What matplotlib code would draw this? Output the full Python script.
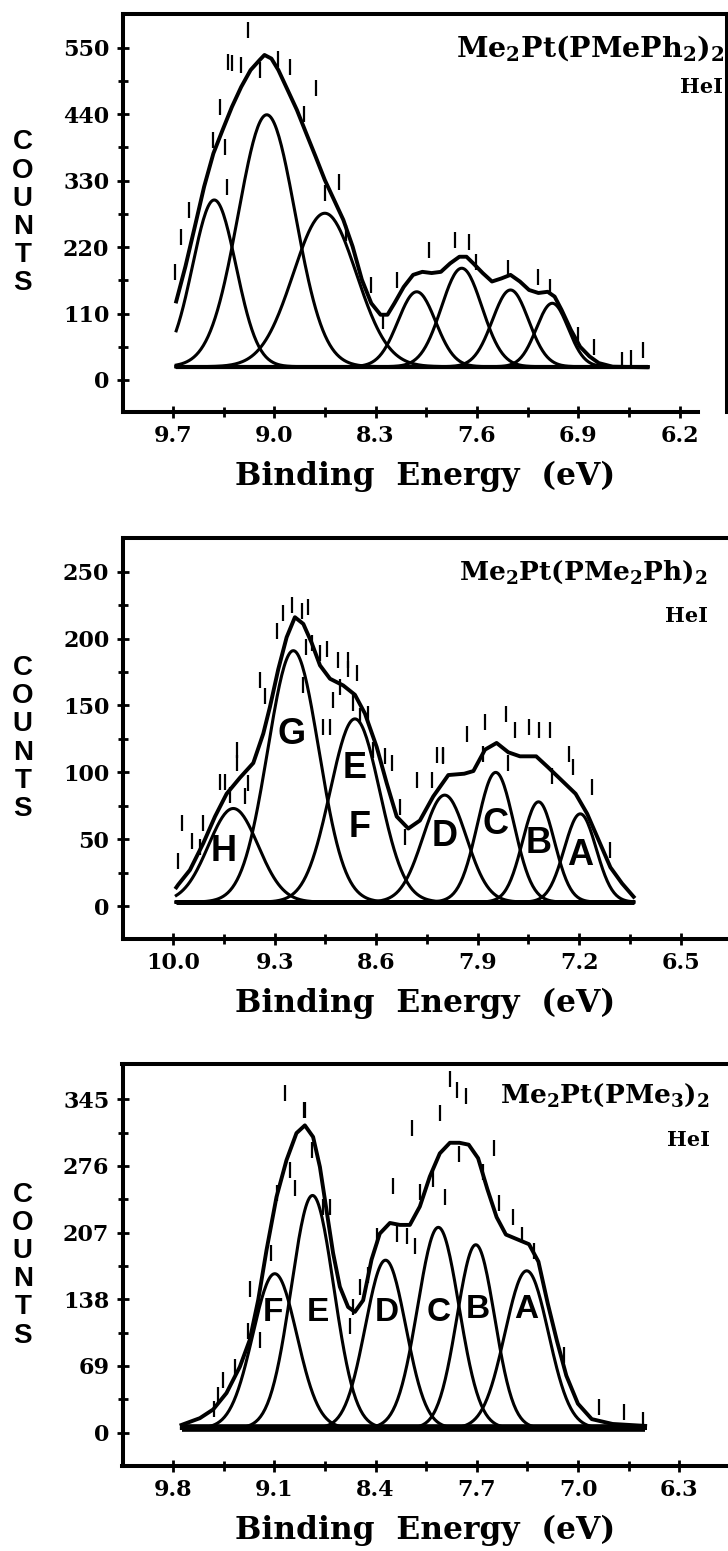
import numpy as np
import matplotlib.pyplot as plt
from matplotlib.ticker import FixedLocator

plt.rcParams['mathtext.default'] = 'regular'

# ---------------- panel 1 : Me2Pt(PMePh2)2 ----------------
p1_center = [9.415, 9.052, 8.651, 8.016, 7.705, 7.368, 7.079]
p1_height = [276, 417, 254, 124, 163, 127, 105]
p1_sigma = [0.15, 0.197, 0.218, 0.13, 0.14, 0.125, 0.11]
p1_base = 22
p1_range = (9.678, 6.42)
p1_env_x = [9.678, 9.614, 9.549, 9.485, 9.421, 9.357, 9.293, 9.229, 9.164, 9.100,
            9.068, 9.020, 8.972, 8.908, 8.844, 8.779, 8.715, 8.651, 8.587, 8.523,
            8.459, 8.395, 8.330, 8.266, 8.218, 8.170, 8.106, 8.041, 7.977, 7.913,
            7.849, 7.785, 7.721, 7.672, 7.625, 7.560, 7.496, 7.432, 7.368, 7.303,
            7.240, 7.175, 7.111, 7.063, 7.015, 6.951, 6.887, 6.822, 6.758, 6.662, 6.421]
p1_env_y = [130, 188, 254, 320, 375, 414, 452, 485, 513, 530,
            538, 532, 513, 480, 447, 408, 370, 331, 298, 265,
            221, 166, 127, 108, 108, 127, 154, 174, 179, 177,
            179, 193, 204, 204, 193, 177, 163, 168, 174, 163,
            149, 144, 146, 138, 116, 83, 55, 39, 28, 22, 21]
p1_pts_x = [9.180, 9.319, 9.293, 9.229, 9.100, 8.972, 8.891, 8.715, 8.795, 9.373,
            9.421, 9.341, 9.325, 8.651, 8.555, 8.507, 9.588, 9.645, 9.684, 8.330,
            8.250, 8.154, 7.929, 7.753, 7.657, 7.608, 7.383, 7.175, 7.095, 6.902,
            6.791, 6.598, 6.533, 6.453]
p1_pts_y = [579, 527, 524, 521, 513, 532, 518, 483, 441, 452,
            397, 386, 320, 309, 328, 243, 281, 237, 179, 157,
            97, 166, 215, 232, 229, 196, 185, 171, 154, 75,
            55, 33, 36, 50]
p1_xticks = [9.7, 9.0, 8.3, 7.6, 6.9, 6.2]
p1_xlabels = ['9.7', '9.0', '8.3', '7.6', '6.9', '6.2']
p1_yticks = [0, 110, 220, 330, 440, 550]

# ---------------- panel 2 : Me2Pt(PMe2Ph)2 ----------------
p2_center = [9.586, 9.172, 8.747, 8.128, 7.776, 7.481, 7.193]
p2_height = [70, 188, 137, 80, 97, 75, 66]
p2_sigma = [0.171, 0.176, 0.171, 0.15, 0.125, 0.11, 0.11]
p2_base = 3
p2_range = (9.979, 6.825)
p2_env_x = [9.979, 9.966, 9.885, 9.793, 9.712, 9.632, 9.540, 9.448, 9.379, 9.333,
            9.276, 9.218, 9.161, 9.103, 9.046, 8.988, 8.919, 8.828, 8.747, 8.678,
            8.597, 8.528, 8.459, 8.379, 8.299, 8.207, 8.103, 7.993, 7.930, 7.850,
            7.770, 7.689, 7.609, 7.497, 7.417, 7.321, 7.225, 7.145, 7.065, 6.985,
            6.905, 6.825]
p2_env_y = [14, 16, 27, 47, 67, 84, 96, 107, 129, 149,
            177, 201, 216, 211, 197, 180, 170, 165, 158, 144,
            119, 92, 67, 58, 64, 82, 98, 99, 101, 117,
            122, 115, 112, 112, 104, 94, 84, 69, 49, 29,
            17, 7]
p2_pts_x = [9.942, 9.966, 9.873, 9.793, 9.816, 9.678, 9.643, 9.609, 9.563, 9.563,
            9.483, 9.506, 9.402, 9.368, 9.287, 9.241, 9.183, 9.114, 9.069, 9.085,
            9.108, 9.046, 8.988, 8.942, 8.966, 8.919, 8.862, 8.850, 8.793, 8.793,
            8.735, 8.897, 8.759, 8.712, 8.655, 8.621, 8.540, 8.494, 8.437, 8.402,
            8.321, 8.218, 8.183, 8.138, 7.977, 7.850, 7.706, 7.641, 7.545, 7.481,
            7.401, 7.273, 7.241, 7.113, 6.985, 7.689, 7.385, 7.866, 8.137]
p2_pts_y = [62, 34, 49, 62, 44, 93, 93, 83, 117, 107,
            92, 82, 169, 157, 206, 219, 225, 221, 224, 194,
            165, 197, 189, 192, 134, 134, 184, 164, 184, 177,
            174, 154, 152, 142, 144, 117, 112, 107, 74, 52,
            94, 94, 113, 113, 129, 138, 144, 132, 134, 132,
            132, 114, 104, 89, 42, 107, 97, 114, 112]
p2_labels = ['H', 'G', 'E', 'F', 'D', 'C', 'B', 'A']
p2_label_x = [9.650, 9.183, 8.747, 8.717, 8.128, 7.776, 7.481, 7.193]
p2_label_y = [41, 128, 103, 59, 52, 61, 47, 38]
p2_xticks = [10.0, 9.3, 8.6, 7.9, 7.2, 6.5]
p2_xlabels = ['10.0', '9.3', '8.6', '7.9', '7.2', '6.5']
p2_yticks = [0, 50, 100, 150, 200, 250]

# ---------------- panel 3 : Me2Pt(PMe3)2 ----------------
p3_center = [9.097, 8.836, 8.331, 7.966, 7.707, 7.355]
p3_height = [160, 241, 174, 208, 190, 163]
p3_sigma = [0.152, 0.147, 0.14, 0.143, 0.13, 0.15]
p3_base = 4.5
p3_range = (9.742, 6.536)
p3_env_x = [9.742, 9.615, 9.523, 9.431, 9.339, 9.270, 9.212, 9.154, 9.085, 9.016,
            8.947, 8.889, 8.832, 8.785, 8.739, 8.694, 8.647, 8.590, 8.543, 8.486,
            8.428, 8.371, 8.301, 8.232, 8.163, 8.094, 8.025, 7.956, 7.886, 7.820,
            7.756, 7.691, 7.627, 7.563, 7.499, 7.419, 7.339, 7.274, 7.210, 7.146,
            7.081, 7.001, 6.905, 6.761, 6.536]
p3_env_y = [8, 15, 24, 41, 68, 96, 137, 189, 244, 282,
            310, 318, 306, 275, 230, 186, 151, 130, 125, 137,
            179, 206, 217, 215, 215, 234, 265, 289, 300, 300,
            298, 284, 252, 223, 205, 200, 195, 177, 134, 95,
            59, 30, 14, 9, 7]
p3_pts_x = [8.889, 8.843, 8.958, 8.993, 9.085, 9.120, 9.270, 9.200, 9.281, 9.373,
            9.454, 9.489, 9.519, 8.279, 8.151, 8.094, 7.956, 8.002, 7.921, 8.393,
            8.255, 8.186, 8.129, 8.451, 8.509, 8.578, 8.555, 8.763, 8.716, 7.884,
            7.836, 7.772, 7.820, 7.660, 7.580, 7.547, 7.451, 7.386, 7.306, 7.097,
            6.857, 6.680, 6.552, 9.024, 8.896]
p3_pts_y = [334, 293, 253, 272, 248, 186, 149, 96, 105, 68,
            55, 39, 25, 255, 315, 249, 331, 262, 244, 203,
            206, 203, 193, 163, 151, 110, 130, 234, 234, 366,
            355, 348, 288, 270, 295, 238, 223, 205, 188, 80,
            27, 21, 13, 352, 334]
p3_labels = ['F', 'E', 'D', 'C', 'B', 'A']
p3_label_x = [9.108, 8.797, 8.324, 7.967, 7.691, 7.355]
p3_label_y = [124, 124, 124, 124, 127, 127]
p3_xticks = [9.8, 9.1, 8.4, 7.7, 7.0, 6.3]
p3_xlabels = ['9.8', '9.1', '8.4', '7.7', '7.0', '6.3']
p3_yticks = [0, 69, 138, 207, 276, 345]

W, H = 728, 1551
fig = plt.figure(figsize=(W / 100, H / 100), dpi=100)

panels = [
    dict(rect=(122.5, 14, 727, 411.7), xlim=(10.049, 5.872), ylim=(-52.5, 605.8),
         center=p1_center, height=p1_height, sigma=p1_sigma, base=p1_base, rng=p1_range,
         env_x=p1_env_x, env_y=p1_env_y, pts_x=p1_pts_x, pts_y=p1_pts_y,
         labels=[], label_x=[], label_y=[], label_size=0,
         xticks=p1_xticks, xlabels=p1_xlabels, yticks=p1_yticks,
         title=r'Me$_2$Pt(PMePh$_2$)$_2$', title_size=20.5, title_pos=(0.9967, 0.8926),
         hei_pos=(0.9934, 0.8006), base_lw=3.0, xspine_end=6.07, right=True),
    dict(rect=(122.5, 538.3, 727, 938.5), xlim=(10.350, 6.181), ylim=(-24.2, 275),
         center=p2_center, height=p2_height, sigma=p2_sigma, base=p2_base, rng=p2_range,
         env_x=p2_env_x, env_y=p2_env_y, pts_x=p2_pts_x, pts_y=p2_pts_y,
         labels=p2_labels, label_x=p2_label_x, label_y=p2_label_y, label_size=26,
         xticks=p2_xticks, xlabels=p2_xlabels, yticks=p2_yticks,
         title=r'Me$_2$Pt(PMe$_2$Ph)$_2$', title_size=19, title_pos=(0.9686, 0.8958),
         hei_pos=(0.9686, 0.7909), base_lw=3.6, xspine_end=None, right=False),
    dict(rect=(122.5, 1064.3, 727, 1466), xlim=(10.150, 5.970), ylim=(-34.5, 381.2),
         center=p3_center, height=p3_height, sigma=p3_sigma, base=p3_base, rng=p3_range,
         env_x=p3_env_x, env_y=p3_env_y, pts_x=p3_pts_x, pts_y=p3_pts_y,
         labels=p3_labels, label_x=p3_label_x, label_y=p3_label_y, label_size=24,
         xticks=p3_xticks, xlabels=p3_xlabels, yticks=p3_yticks,
         title=r'Me$_2$Pt(PMe$_3$)$_2$', title_size=19, title_pos=(0.9719, 0.9037),
         hei_pos=(0.9719, 0.7966), base_lw=5.5, xspine_end=None, right=False),
]

tick_font = dict(family='DejaVu Serif', weight='bold', size=16)

for p in panels:
    x0, y0, x1, y1 = p['rect']
    ax = fig.add_axes([x0 / W, 1 - y1 / H, (x1 - x0) / W, (y1 - y0) / H])
    ax.set_xlim(*p['xlim'])
    ax.set_ylim(*p['ylim'])

    # fitted gaussian bands on a flat background
    x = np.linspace(p['rng'][0], p['rng'][1], 400)
    for c, h, s in zip(p['center'], p['height'], p['sigma']):
        ax.plot(x, p['base'] + h * np.exp(-0.5 * ((x - c) / s) ** 2), color='black', lw=2.2)
    ax.plot(p['rng'], [p['base'], p['base']], color='black', lw=p['base_lw'],
            solid_capstyle='butt')
    # envelope
    ax.plot(p['env_x'], p['env_y'], color='black', lw=2.8, solid_joinstyle='round')
    # raw data points
    ax.plot(p['pts_x'], p['pts_y'], ls='none', marker='|', ms=11, mew=1.6, color='black')

    for lab, lx, ly in zip(p['labels'], p['label_x'], p['label_y']):
        ax.text(lx, ly, lab, ha='center', va='center', family='Liberation Sans',
                weight='bold', size=p['label_size'])

    ax.text(*p['title_pos'], p['title'], transform=ax.transAxes, ha='right', va='baseline',
            family='DejaVu Serif', weight='bold', size=p['title_size'])
    ax.text(*p['hei_pos'], 'HeI', transform=ax.transAxes, ha='right', va='baseline',
            family='DejaVu Serif', weight='bold', size=15)

    # axes styling
    for side in ['left', 'top', 'bottom', 'right']:
        ax.spines[side].set_linewidth(2.9)
    ax.spines['right'].set_visible(p['right'])
    if p['xspine_end'] is not None:
        ax.spines['bottom'].set_bounds(p['xlim'][0], p['xspine_end'])

    xt = p['xticks']
    ax.set_xticks(xt, p['xlabels'])
    ax.xaxis.set_minor_locator(FixedLocator([(a + b) / 2 for a, b in zip(xt[:-1], xt[1:])]))
    yt = p['yticks']
    ax.set_yticks(yt, [str(v) for v in yt])
    ax.yaxis.set_minor_locator(FixedLocator([(a + b) / 2 for a, b in zip(yt[:-1], yt[1:])]))
    ax.tick_params(which='major', direction='inout', length=9, width=2)
    ax.tick_params(which='minor', direction='inout', length=7, width=2)
    ax.tick_params(axis='x', which='major', pad=5)
    ax.tick_params(axis='y', which='major', pad=5)
    for t in ax.get_xticklabels() + ax.get_yticklabels():
        t.set_fontfamily(tick_font['family'])
        t.set_fontweight(tick_font['weight'])
        t.set_fontsize(tick_font['size'])

    ax.set_xlabel('Binding  Energy  (eV)', family='DejaVu Serif', weight='bold',
                  size=22.5, labelpad=10)

    for i, ch in enumerate('COUNTS'):
        ax.annotate(ch, xy=(-0.165, 0.5), xycoords='axes fraction',
                    xytext=(0, (2.5 - i) * 28.2 * 0.72), textcoords='offset points',
                    ha='center', va='center', family='Liberation Sans', weight='bold',
                    size=20)

fig.savefig('out.png', dpi=100)
plt.close(fig)
